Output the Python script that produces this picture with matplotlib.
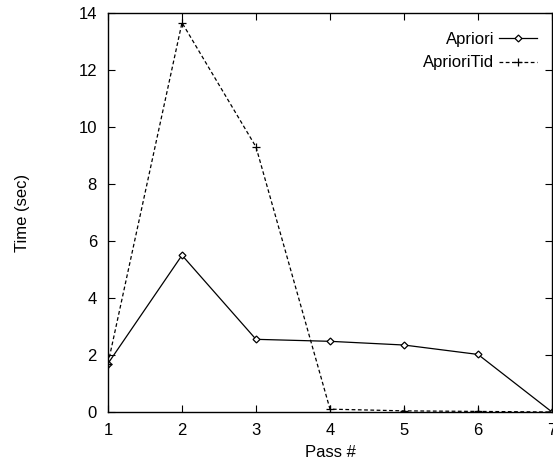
import matplotlib
matplotlib.use('Agg')
import matplotlib.pyplot as plt

# data
passes = [1, 2, 3, 4, 5, 6, 7]
apriori = [1.7, 5.5, 2.55, 2.48, 2.35, 2.02, 0.0]
apriori_tid = [1.7, 13.66, 9.3, 0.1, 0.04, 0.02, 0.0]
yticks = [0, 2, 4, 6, 8, 10, 12, 14]

plt.rcParams['font.family'] = ['Liberation Sans', 'DejaVu Sans']

fig = plt.figure(figsize=(5.53, 4.63), dpi=100)
ax = fig.add_axes([108 / 553, 51 / 463, 444 / 553, 399 / 463])

ax.plot(passes, apriori, color='black', lw=0.9, marker='D', ms=3.5,
        mfc='white', mec='black', mew=0.9, label='Apriori')
ax.plot(passes, apriori_tid, color='black', lw=0.9, ls=(0, (3, 2)),
        marker='+', ms=6, mew=0.9, label='AprioriTid')

ax.set_xlim(1, 7)
ax.set_ylim(0, 14)
ax.set_xticks(passes)
ax.set_yticks(yticks)
ax.tick_params(direction='in', top=True, right=True, length=5, width=0.8,
               labelsize=12, pad=8)
for s in ax.spines.values():
    s.set_linewidth(1.0)

ax.set_xlabel('Pass #', fontsize=12, labelpad=5)
ax.set_ylabel('Time (sec)', fontsize=12)
ax.yaxis.set_label_coords(-0.175, 0.5)

# legend: text left of the sample, top right corner
ax.legend(loc='upper right', bbox_to_anchor=(0.966, 0.952), markerfirst=False,
          frameon=False, fontsize=12, handlelength=2.3, borderaxespad=0,
          borderpad=0, labelspacing=0.5, handletextpad=0.25)

fig.savefig('out.png', dpi=100)
